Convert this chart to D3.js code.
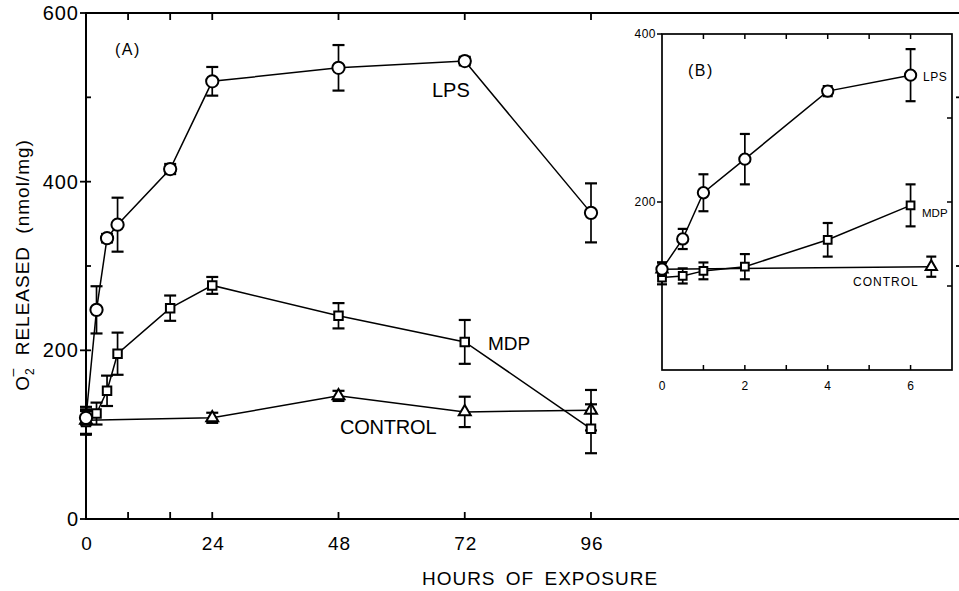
<!DOCTYPE html>
<html>
<head>
<meta charset="utf-8">
<script src="https://cdn.jsdelivr.net/npm/d3@7"></script>
<style>
  body { margin: 0; background: #fff; }
  svg { display: block; }
  text { font-family: "Liberation Sans", Arial, Helvetica, sans-serif; fill: #000; }
</style>
</head>
<body>
<svg id="chart" width="959" height="591"></svg>
<script>
// ---- data ----
// panel A, hours 0-96
const mainHours = [0, 2, 4, 6, 16, 24, 48, 72, 96];
const lpsMain = [120, 248, 333, 349, 415, 519, 535, 543, 363];
const lpsMainErr = [8, 28, 5, 32, 6, 17, 27, 5, 35];
const mdpMain = [115, 125, 152, 196, 250, 277, 241, 210, 107];
const mdpMainErr = [15, 13, 18, 25, 15, 10, 15, 26, 29];
const ctrlHours = [0, 24, 48, 72, 96];
const ctrlMain = [117, 120, 146, 127, 129];
const ctrlMainErr = [16, 6, 6, 18, 24];

// panel B (inset), hours 0-6
const insetHours = [0, 0.5, 1, 2, 4, 6];
const lpsInset = [120, 156, 211, 251, 332, 351];
const lpsInsetErr = [8, 12, 22, 30, 6, 31];
const mdpInset = [110, 112, 118, 123, 155, 196];
const mdpInsetErr = [8, 9, 10, 15, 20, 25];
const ctrlInsetHours = [0, 6.5];
const ctrlInset = [120, 123];
const ctrlInsetErr = [8, 12];

const mainXTicks = [0, 24, 48, 72, 96];
const mainXMinor = [8, 16, 24, 48, 72, 96];
const mainYTicks = [0, 200, 400, 600];
const mainYMinor = [100, 200, 300, 400, 500];
const mainYRight = [300, 500];
const insetXTicks = [0, 2, 4, 6];
const insetXMinor = [1, 2, 3, 4, 5, 6];
const insetYTicks = [200, 400];
const insetYMinor = [100, 200, 300];

const svg = d3.select("#chart");

// scales
const x = d3.scaleLinear().domain([0, 96]).range([86, 591]);
const y = d3.scaleLinear().domain([0, 600]).range([519, 13]);
const xi = d3.scaleLinear().domain([0, 7]).range([662, 952]);
const yi = d3.scaleLinear().domain([0, 400]).range([370, 34]);

function zip(xs, ys, es) {
  return xs.map((h, i) => ({ h: h, v: ys[i], e: es[i] }));
}

// draws one series: line, error bars, markers
function drawSeries(g, pts, sx, sy, shape, size, cap) {
  const line = d3.line().x(d => sx(d.h)).y(d => sy(d.v));
  g.append("path").datum(pts)
    .attr("d", line)
    .attr("fill", "none").attr("stroke", "#000").attr("stroke-width", 1.5);

  const eb = g.append("g").attr("stroke", "#000").attr("stroke-width", 1.7);
  pts.forEach(d => {
    const cx = sx(d.h);
    eb.append("line").attr("x1", cx).attr("x2", cx)
      .attr("y1", sy(d.v - d.e)).attr("y2", sy(d.v + d.e));
    [d.v - d.e, d.v + d.e].forEach(v => {
      eb.append("line").attr("x1", cx - cap / 2).attr("x2", cx + cap / 2)
        .attr("y1", sy(v)).attr("y2", sy(v)).attr("stroke-width", 2.2);
    });
  });

  const sym = d3.symbol().type(shape).size(size);
  g.selectAll(null).data(pts).enter().append("path")
    .attr("d", sym)
    .attr("transform", d => `translate(${sx(d.h)},${sy(d.v)})`)
    .attr("fill", "#fff").attr("stroke", "#000").attr("stroke-width", 2);
}

// ---- panel A frame ----
const frame = svg.append("g").attr("stroke", "#000").attr("stroke-width", 2).attr("fill", "none");
frame.append("path").attr("d", `M961,${y(600)}H${x(0)}V${y(0)}H961`);

const ticks = svg.append("g").attr("stroke", "#000").attr("stroke-width", 1.8);
mainXMinor.forEach(h => {
  ticks.append("line").attr("x1", x(h)).attr("x2", x(h)).attr("y1", y(0)).attr("y2", y(0) - 7);
  ticks.append("line").attr("x1", x(h)).attr("x2", x(h)).attr("y1", y(600)).attr("y2", y(600) + 7);
});
mainYMinor.forEach(v => {
  ticks.append("line").attr("x1", x(0)).attr("x2", x(0) + 5).attr("y1", y(v)).attr("y2", y(v));
});
mainYRight.forEach(v => {
  ticks.append("line").attr("x1", 959).attr("x2", 956).attr("y1", y(v)).attr("y2", y(v));
});
mainYTicks.forEach(v => {
  ticks.append("line").attr("x1", x(0)).attr("x2", x(0) - 6).attr("y1", y(v)).attr("y2", y(v));
});

svg.append("g").selectAll("text").data(mainYTicks).enter().append("text")
  .attr("x", 79).attr("y", d => y(d) + 7)
  .attr("text-anchor", "end").attr("font-size", 20).attr("letter-spacing", 1)
  .text(d => d);
svg.append("g").selectAll("text").data(mainXTicks).enter().append("text")
  .attr("x", d => x(d) + 1).attr("y", 550)
  .attr("text-anchor", "middle").attr("font-size", 19).attr("letter-spacing", 1)
  .text(d => d);

svg.append("text").attr("x", 540).attr("y", 585)
  .attr("text-anchor", "middle").attr("font-size", 19)
  .attr("letter-spacing", 1).attr("word-spacing", 4)
  .text("HOURS OF EXPOSURE");

const yl = svg.append("text")
  .attr("transform", "translate(29,265) rotate(-90)")
  .attr("text-anchor", "middle").attr("font-size", 19).attr("letter-spacing", 1);
yl.append("tspan").text("O");
yl.append("tspan").attr("font-size", 12).attr("dy", 5).text("2");
yl.append("tspan").attr("font-size", 14).attr("dx", -9).attr("dy", -17).text("\u2013");
yl.append("tspan").attr("dy", 12).attr("word-spacing", 6).text("  RELEASED  (nmol/mg)");

svg.append("text").attr("x", 115).attr("y", 55)
  .attr("font-size", 16).attr("letter-spacing", 1.5).text("(A)");

// ---- panel A series ----
const gA = svg.append("g");
drawSeries(gA, zip(ctrlHours, ctrlMain, ctrlMainErr), x, y, d3.symbolTriangle, 62, 12);
drawSeries(gA, zip(mainHours, mdpMain, mdpMainErr), x, y, d3.symbolSquare, 72, 12);
drawSeries(gA, zip(mainHours, lpsMain, lpsMainErr), x, y, d3.symbolCircle, 118, 12);

svg.append("text").attr("x", 432).attr("y", 97).attr("font-size", 20).text("LPS");
svg.append("text").attr("x", 488).attr("y", 350).attr("font-size", 19).text("MDP");
svg.append("text").attr("x", 340).attr("y", 434).attr("font-size", 20).attr("letter-spacing", -0.2).text("CONTROL");

// ---- panel B inset ----
const gB = svg.append("g");
gB.append("rect")
  .attr("x", xi(0)).attr("y", yi(400))
  .attr("width", xi(7) - xi(0)).attr("height", yi(0) - yi(400))
  .attr("fill", "#fff").attr("stroke", "#000").attr("stroke-width", 1.7);

const ti = gB.append("g").attr("stroke", "#000").attr("stroke-width", 1.5);
insetXMinor.forEach(h => {
  ti.append("line").attr("x1", xi(h)).attr("x2", xi(h)).attr("y1", yi(0)).attr("y2", yi(0) - 5);
  ti.append("line").attr("x1", xi(h)).attr("x2", xi(h)).attr("y1", yi(400)).attr("y2", yi(400) + 5);
});
insetYMinor.forEach(v => {
  ti.append("line").attr("x1", xi(7)).attr("x2", xi(7) - 5).attr("y1", yi(v)).attr("y2", yi(v));
});
insetYTicks.forEach(v => {
  ti.append("line").attr("x1", xi(0)).attr("x2", xi(0) - 5).attr("y1", yi(v)).attr("y2", yi(v));
});

gB.append("g").selectAll("text").data(insetYTicks).enter().append("text")
  .attr("x", 656).attr("y", d => yi(d) + 4)
  .attr("text-anchor", "end").attr("font-size", 12).attr("letter-spacing", 0.5)
  .text(d => d);
gB.append("g").selectAll("text").data(insetXTicks).enter().append("text")
  .attr("x", d => xi(d)).attr("y", 390)
  .attr("text-anchor", "middle").attr("font-size", 12)
  .text(d => d);

gB.append("text").attr("x", 688).attr("y", 76)
  .attr("font-size", 16).attr("letter-spacing", 1.5).text("(B)");

drawSeries(gB, zip(ctrlInsetHours, ctrlInset, ctrlInsetErr), xi, yi, d3.symbolTriangle, 55, 10);
drawSeries(gB, zip(insetHours, mdpInset, mdpInsetErr), xi, yi, d3.symbolSquare, 60, 10);
drawSeries(gB, zip(insetHours, lpsInset, lpsInsetErr), xi, yi, d3.symbolCircle, 100, 10);

gB.append("text").attr("x", 923).attr("y", 81).attr("font-size", 12).attr("letter-spacing", 0.5).text("LPS");
gB.append("text").attr("x", 922).attr("y", 217).attr("font-size", 11.5).text("MDP");
gB.append("text").attr("x", 853).attr("y", 286).attr("font-size", 12).attr("letter-spacing", 1).text("CONTROL");
</script>
</body>
</html>
